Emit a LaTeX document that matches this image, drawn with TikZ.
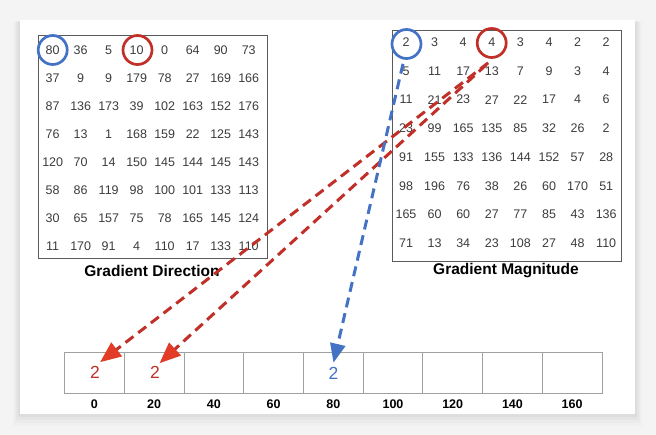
\documentclass[tikz,border=0pt]{standalone}
\usepackage{fontspec}
\setmainfont{Liberation Sans}
\usetikzlibrary{arrows.meta,calc}
\definecolor{bg}{RGB}{244,244,244}
\definecolor{numgray}{RGB}{60,60,60}
\definecolor{boxgray}{RGB}{90,90,90}
\definecolor{cellgray}{RGB}{160,160,160}
\definecolor{myred}{RGB}{192,48,40}
\definecolor{tipred}{RGB}{226,60,40}
\definecolor{myblue}{RGB}{68,114,196}
\tikzset{
  num/.style={font=\fontsize{12.5}{14}\selectfont, text=numgray, inner sep=0pt},
  title/.style={font=\fontsize{15.5}{17}\selectfont\bfseries, text=black, inner sep=0pt},
  binlabel/.style={font=\fontsize{12.5}{14}\selectfont\bfseries, text=black, inner sep=0pt},
  vote/.style={font=\fontsize{17.5}{19}\selectfont, inner sep=0pt},
  cell/.style={draw=cellgray, line width=0.8pt, minimum width=59.72pt, minimum height=41pt, inner sep=0pt},
  mbox/.style={draw=boxgray, line width=0.9pt, inner sep=0pt},
  ring/.style={draw, circle, line width=2.7pt, minimum size=29pt, inner sep=0pt},
  redarrow/.style={draw=myred, line width=3pt, dash pattern=on 10pt off 6pt,
    -{Triangle[length=21pt,width=17pt,color=tipred,fill=tipred]}},
  bluearrow/.style={draw=myblue, line width=3pt, dash pattern=on 10pt off 6pt,
    -{Triangle[length=19pt,width=15pt,color=myblue,fill=myblue]}}
}
\begin{document}
\begin{tikzpicture}[x=1pt,y=-1pt]
\useasboundingbox (0,0) rectangle (656,435);
\fill[bg] (0,0) rectangle (656,435);
% soft shadow
\foreach \k/\o in {12/0.015,9/0.02,6/0.025,3/0.03}{
  \fill[black,opacity=\o] (20-\k*0.6,20+\k*0.2) rectangle (635+\k*0.6,414+\k);
}
\node[fill=white, minimum width=615pt, minimum height=394pt, inner sep=0pt, anchor=north west] (card) at (20,20) {};

% Gradient Direction matrix
\node[mbox, minimum width=229pt, minimum height=223pt, anchor=north west] (dbox) at (38,35) {};
\foreach \row [count=\i from 0] in {
  {80,36,5,10,0,64,90,73},
  {37,9,9,179,78,27,169,166},
  {87,136,173,39,102,163,152,176},
  {76,13,1,168,159,22,125,143},
  {120,70,14,150,145,144,145,143},
  {58,86,119,98,100,101,133,113},
  {30,65,157,75,78,165,145,124},
  {11,170,91,4,110,17,133,110}}{
  \foreach \v [count=\j from 0] in \row {
    \node[num] (d-\i-\j) at (52.7+28*\j, 50+28*\i) {\v};
  }
}
\node[title] (dlabel) at (152,271) {Gradient Direction};

% Gradient Magnitude matrix
\node[mbox, minimum width=229pt, minimum height=231pt, anchor=north west] (mbox) at (392,30) {};
\foreach \row [count=\i from 0] in {
  {2,3,4,4,3,4,2,2},
  {5,11,17,13,7,9,3,4},
  {11,21,23,27,22,17,4,6},
  {23,99,165,135,85,32,26,2},
  {91,155,133,136,144,152,57,28},
  {98,196,76,38,26,60,170,51},
  {165,60,60,27,77,85,43,136},
  {71,13,34,23,108,27,48,110}}{
  \foreach \v [count=\j from 0] in \row {
    \node[num] (m-\i-\j) at (406+28.6*\j, 42.3+28.7*\i) {\v};
  }
}
\node[title] (mlabel) at (506,271) {Gradient Magnitude};

% circles
\node[ring, draw=myblue] (bd) at (52.7,50) {};
\node[ring, draw=myred] (rd) at (137.5,50) {};
\node[ring, draw=myblue] (bm) at (406.5,44) {};
\node[ring, draw=myred] (rm) at (491.7,43) {};

% histogram
\foreach \lab [count=\k from 0] in {0,20,40,60,80,100,120,140,160}{
  \node[cell] (h\k) at (94.4+59.72*\k, 372.5) {};
  \node[binlabel] (l\k) at (94.4+59.72*\k, 404) {\lab};
}
\node[vote, text=myred] (v0) at (95,372.5) {2};
\node[vote, text=myred] (v1) at (155,372.5) {2};
\node[vote, text=myblue] (v4) at (333.5,373) {2};

% arrow ends
\coordinate (rs1) at ($(rm.south)+(-3.5,4)$);
\coordinate (rs2) at ($(rm.south)+(-5.5,6)$);
\coordinate (bs) at ($(bm.south)+(-3.5,4)$);
\coordinate (t0) at ($(v0.north east)+(0,-4)$);
\coordinate (t1) at ($(v1.north east)+(-0.5,-3)$);
\coordinate (t4) at ($(v4.north)+(0,-4)$);

\draw[redarrow] (rs1) -- (t0);
\draw[redarrow] (rs2) -- (t1);
\draw[bluearrow] (bs) -- (t4);
\end{tikzpicture}
\end{document}
